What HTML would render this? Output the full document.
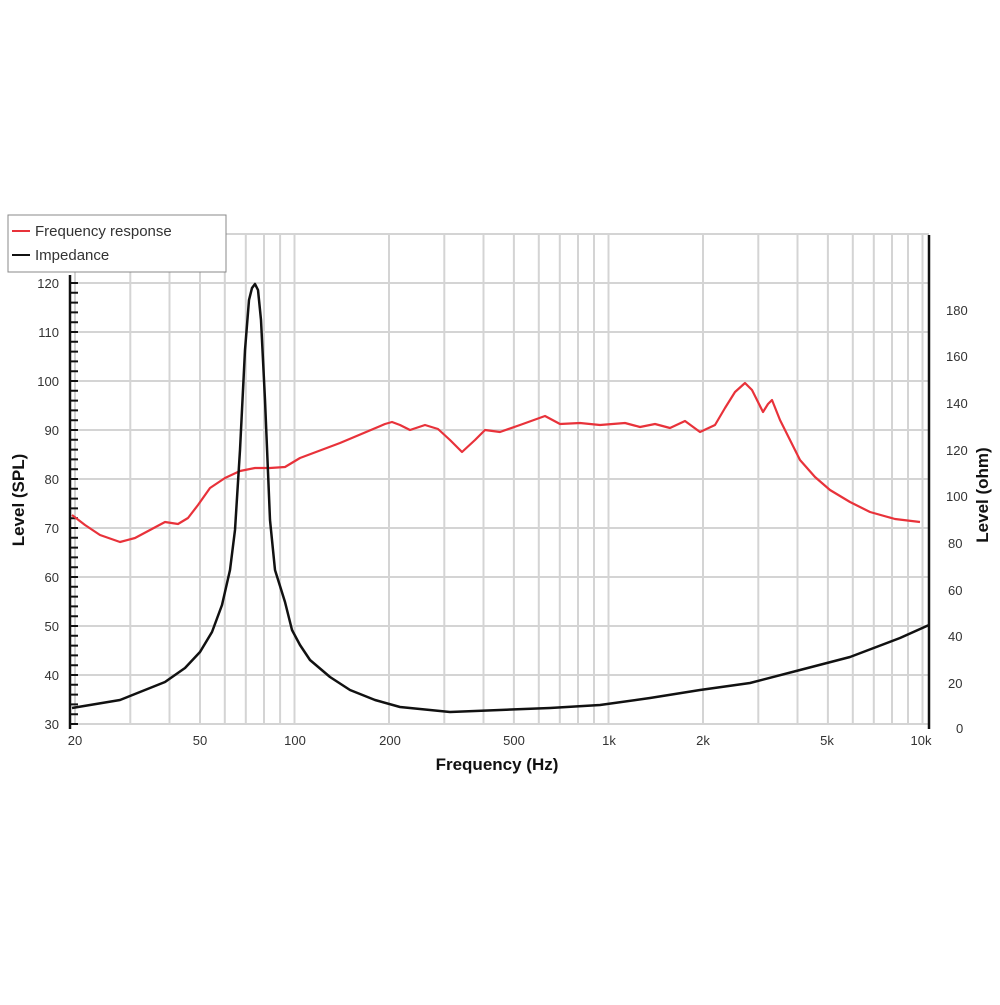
<!DOCTYPE html>
<html><head><style>body{margin:0;background:#fff}</style></head><body>
<svg width="1000" height="1000" xmlns="http://www.w3.org/2000/svg" font-family="Liberation Sans, sans-serif">
<g stroke="#d4d4d4" stroke-width="2">
<line x1="75" y1="235" x2="75" y2="724"/><line x1="130.3" y1="235" x2="130.3" y2="724"/><line x1="169.5" y1="235" x2="169.5" y2="724"/><line x1="200" y1="235" x2="200" y2="724"/><line x1="224.8" y1="235" x2="224.8" y2="724"/><line x1="245.8" y1="235" x2="245.8" y2="724"/><line x1="264" y1="235" x2="264" y2="724"/><line x1="280.1" y1="235" x2="280.1" y2="724"/><line x1="294.5" y1="235" x2="294.5" y2="724"/>
<line x1="389" y1="235" x2="389" y2="724"/><line x1="444.3" y1="235" x2="444.3" y2="724"/><line x1="483.5" y1="235" x2="483.5" y2="724"/><line x1="513.9" y1="235" x2="513.9" y2="724"/><line x1="538.8" y1="235" x2="538.8" y2="724"/><line x1="559.8" y1="235" x2="559.8" y2="724"/><line x1="578" y1="235" x2="578" y2="724"/><line x1="594" y1="235" x2="594" y2="724"/><line x1="608.5" y1="235" x2="608.5" y2="724"/>
<line x1="703" y1="235" x2="703" y2="724"/><line x1="758.3" y1="235" x2="758.3" y2="724"/><line x1="797.5" y1="235" x2="797.5" y2="724"/><line x1="827.9" y1="235" x2="827.9" y2="724"/><line x1="852.8" y1="235" x2="852.8" y2="724"/><line x1="873.8" y1="235" x2="873.8" y2="724"/><line x1="892" y1="235" x2="892" y2="724"/><line x1="908" y1="235" x2="908" y2="724"/><line x1="922.5" y1="235" x2="922.5" y2="724"/>
<line x1="72" y1="724" x2="929" y2="724"/><line x1="72" y1="675" x2="929" y2="675"/><line x1="72" y1="626" x2="929" y2="626"/><line x1="72" y1="577" x2="929" y2="577"/><line x1="72" y1="528" x2="929" y2="528"/><line x1="72" y1="479" x2="929" y2="479"/><line x1="72" y1="430" x2="929" y2="430"/><line x1="72" y1="381" x2="929" y2="381"/><line x1="72" y1="332" x2="929" y2="332"/><line x1="72" y1="283" x2="929" y2="283"/><line x1="72" y1="234" x2="929" y2="234"/>
</g>
<g stroke="#111" stroke-width="2.5">
<line x1="70" y1="275" x2="70" y2="729"/>
<line x1="929" y1="235" x2="929" y2="729"/>
</g>
<path stroke="#111" stroke-width="2" fill="none" d="M70 724h8M70 714.2h8M70 704.4h8M70 694.6h8M70 684.8h8M70 675h8M70 665.2h8M70 655.4h8M70 645.6h8M70 635.8h8M70 626h8M70 616.2h8M70 606.4h8M70 596.6h8M70 586.8h8M70 577h8M70 567.2h8M70 557.4h8M70 547.6h8M70 537.8h8M70 528h8M70 518.2h8M70 508.4h8M70 498.6h8M70 488.8h8M70 479h8M70 469.2h8M70 459.4h8M70 449.6h8M70 439.8h8M70 430h8M70 420.2h8M70 410.4h8M70 400.6h8M70 390.8h8M70 381h8M70 371.2h8M70 361.4h8M70 351.6h8M70 341.8h8M70 332h8M70 322.2h8M70 312.4h8M70 302.6h8M70 292.8h8M70 283h8"/>
<g font-size="13" fill="#333" text-anchor="end">
<text x="59" y="729">30</text><text x="59" y="680">40</text><text x="59" y="631">50</text><text x="59" y="582">60</text><text x="59" y="533">70</text><text x="59" y="484">80</text><text x="59" y="435">90</text><text x="59" y="386">100</text><text x="59" y="337">110</text><text x="59" y="288">120</text>
</g>
<g font-size="13" fill="#333" text-anchor="start">
<text x="956" y="733">0</text><text x="948" y="688">20</text><text x="948" y="641">40</text><text x="948" y="595">60</text><text x="948" y="548">80</text><text x="946" y="501">100</text><text x="946" y="455">120</text><text x="946" y="408">140</text><text x="946" y="361">160</text><text x="946" y="315">180</text>
</g>
<g font-size="13" fill="#333" text-anchor="middle">
<text x="75" y="745">20</text><text x="200" y="745">50</text><text x="295" y="745">100</text><text x="390" y="745">200</text><text x="514" y="745">500</text><text x="609" y="745">1k</text><text x="703" y="745">2k</text><text x="827" y="745">5k</text><text x="921" y="745">10k</text>
</g>
<text x="497" y="770" font-size="17" font-weight="bold" fill="#111" text-anchor="middle">Frequency (Hz)</text>
<text transform="translate(24,500) rotate(-90)" font-size="17" font-weight="bold" fill="#111" text-anchor="middle">Level (SPL)</text>
<text transform="translate(988,495) rotate(-90)" font-size="17" font-weight="bold" fill="#111" text-anchor="middle">Level (ohm)</text>
<polyline fill="none" stroke="#e8323a" stroke-width="2.2" stroke-linejoin="round" points="72,515 85,525 100,535 120,542 135,538 150,530 165,522 178,524 188,518 198,505 210,488 225,478 240,471 255,468 270,468 285,467 300,458 340,443 385,424 392,422 400,425 410,430 425,425 438,429 450,440 462,452 475,440 485,430 500,432 520,425 545,416 560,424 580,423 600,425 625,423 640,427 655,424 670,428 685,421 700,432 715,425 725,408 735,392 745,383 752,390 758,402 763,412 768,404 772,400 780,420 790,440 800,460 815,477 830,490 850,502 870,512 895,519 920,522"/>
<polyline fill="none" stroke="#111" stroke-width="2.5" stroke-linejoin="round" points="72,708 120,700 165,682 185,668 200,652 212,632 222,605 230,570 235,530 240,450 245,350 249,300 252,288 255,284 258,290 261,320 265,400 270,520 275,570 285,602 292,630 300,645 310,660 330,677 350,690 375,700 400,707 450,712 500,710 550,708 600,705 650,698 700,690 750,683 800,670 850,657 900,638 929,625"/>
<rect x="8" y="215" width="218" height="57" fill="#fff" stroke="#888" stroke-width="1"/>
<line x1="12" y1="231" x2="30" y2="231" stroke="#e8323a" stroke-width="2"/>
<line x1="12" y1="255" x2="30" y2="255" stroke="#111" stroke-width="2"/>
<text x="35" y="236" font-size="15" fill="#333">Frequency response</text>
<text x="35" y="260" font-size="15" fill="#333">Impedance</text>
</svg>
</body></html>
